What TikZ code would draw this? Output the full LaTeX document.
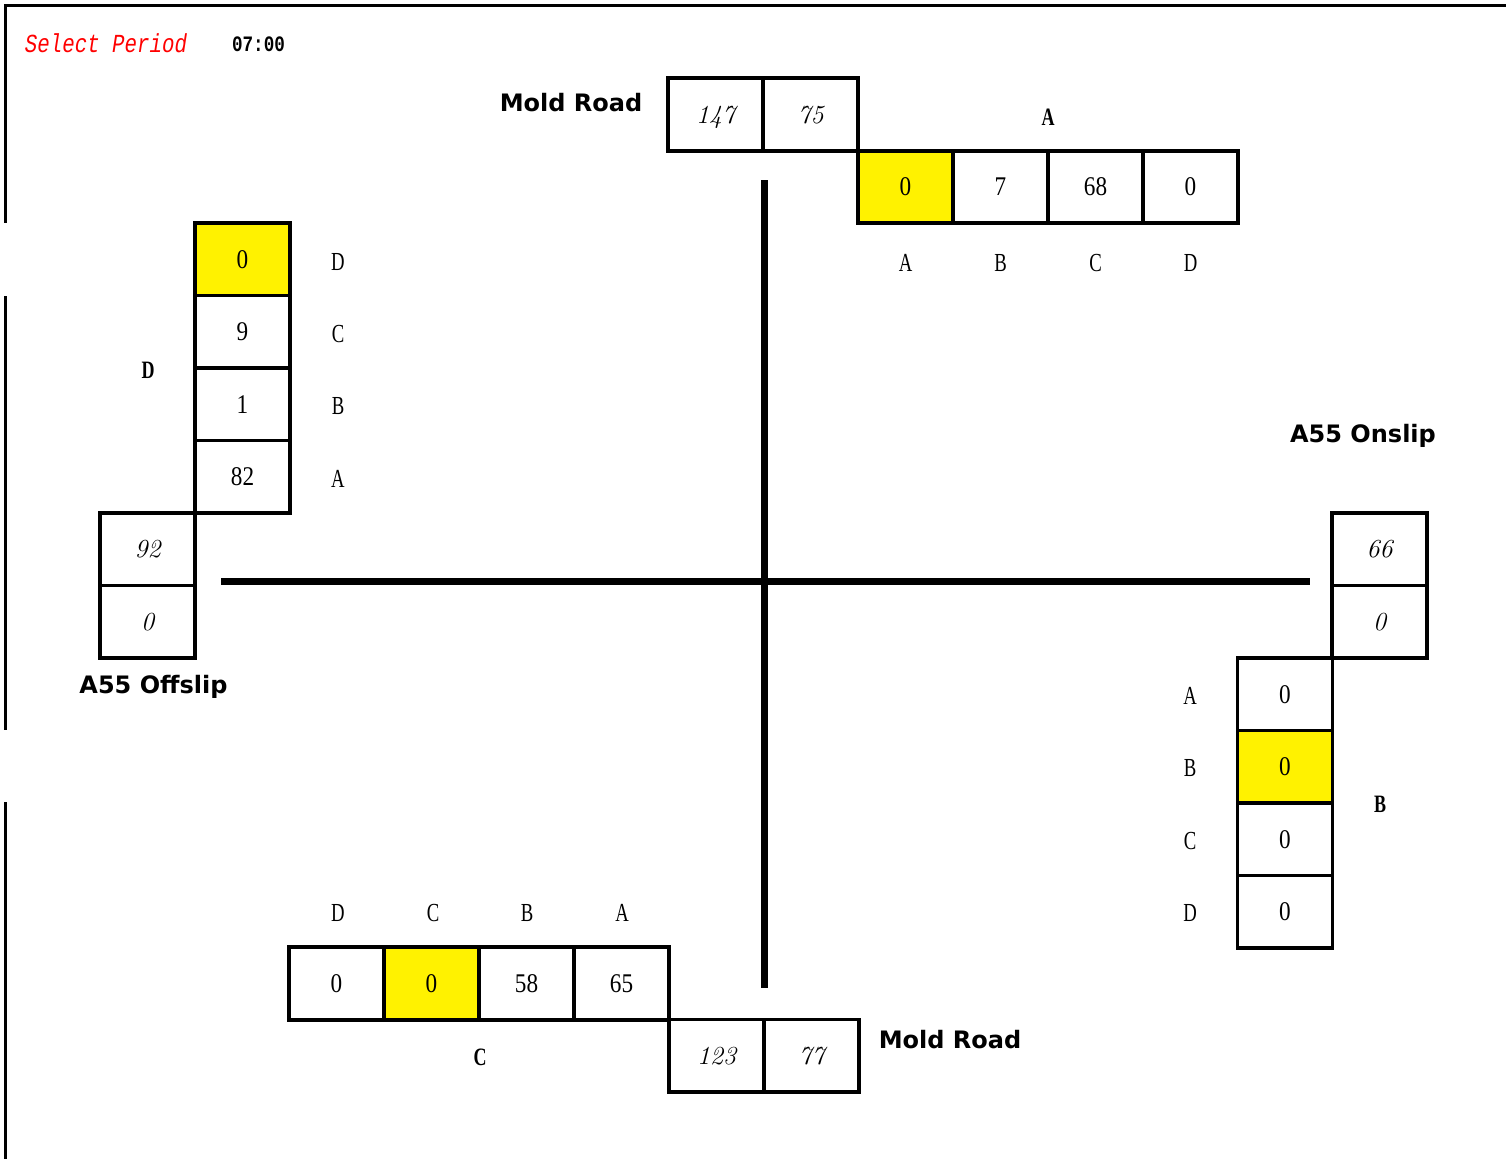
\documentclass[tikz,border=0pt]{standalone}
\usepackage{fontspec}
\newfontfamily\cellfont[FakeStretch=0.86]{Liberation Serif}
\newfontfamily\lanefont[FakeStretch=0.72]{Liberation Serif}
\newfontfamily\ttcond[FakeStretch=0.8]{Liberation Mono}
\newfontfamily\sanslab{DejaVu Sans}
\begin{document}
\begin{tikzpicture}[x=1pt,y=-1pt,
  cell/.style={draw, line width=3.7pt, minimum width=95pt, minimum height=72.5pt, inner sep=0pt,
    text depth=-2pt, font=\cellfont\fontsize{27}{27}\selectfont},
  hl/.style={fill=yellow},
  flow/.style={font=\normalfont\itshape\fontsize{26}{26}\selectfont},
  lane/.style={inner sep=0pt, font=\lanefont\fontsize{26}{26}\selectfont},
  arm/.style={inner sep=0pt, font=\lanefont\bfseries\fontsize{25}{25}\selectfont},
  road/.style={inner sep=0pt, text depth=0pt, font=\sanslab\bfseries\fontsize{24}{24}\selectfont},
  roadline/.style={line width=7pt},
  frame/.style={line width=3.7pt}]
\useasboundingbox (0,0) rectangle (1506,1159);
% frame
\draw[frame] (4,5.5) -- (1506,5.5);
\draw[frame] (5.5,4) -- (5.5,223);
\draw[frame] (5.5,296) -- (5.5,730);
\draw[frame] (5.5,802) -- (5.5,1159);
% header
\node[inner sep=0pt, text=red, font=\ttcond\itshape\fontsize{26}{26}\selectfont] (sel) at (106,43) {Select Period};
\node[inner sep=0pt, font=\ttcond\bfseries\fontsize{22}{22}\selectfont] (time) at (258.5,44) {07:00};
% roads
\coordinate (rN) at (764,180);
\coordinate (rS) at (764,988);
\coordinate (rW) at (221,581);
\coordinate (rE) at (1310,581);
\draw[roadline] (rN) -- (rS);
\draw[roadline] (rW) -- (rE);
% top arm A
\node[cell, flow] (a1) at (715.5,114.5) {147};
\node[cell, flow] (a2) at (810.5,114.5) {75};
\node[cell, hl] (aA) at (905.5,187) {0};
\node[cell] (aB) at (1000.5,187) {7};
\node[cell] (aC) at (1095.5,187) {68};
\node[cell] (aD) at (1190.5,187) {0};
\node[lane] at (905.5,263) {A};
\node[lane] at (1000.5,263) {B};
\node[lane] at (1095.5,263) {C};
\node[lane] at (1190.5,263) {D};
\node[arm] (armA) at (1048,117) {A};
\node[road] (mrN) at (571,102) {Mold Road};
% left arm D
\node[cell, hl] (dD) at (242.5,259.25) {0};
\node[cell] (dC) at (242.5,331.75) {9};
\node[cell] (dB) at (242.5,404.25) {1};
\node[cell] (dA) at (242.5,476.75) {82};
\node[lane] at (338,262) {D};
\node[lane] at (338,334) {C};
\node[lane] at (338,406) {B};
\node[lane] at (338,479) {A};
\node[cell, flow] (d1) at (147.5,549.25) {92};
\node[cell, flow] (d2) at (147.5,621.75) {0};
\node[arm] (armD) at (148,370) {D};
\node[road] (off) at (153.5,684) {A55 Offslip};
% right arm B
\node[cell, flow] (b1) at (1379.5,549.25) {66};
\node[cell, flow] (b2) at (1379.5,621.75) {0};
\node[cell] (bA) at (1285,694.25) {0};
\node[cell, hl] (bB) at (1285,766.75) {0};
\node[cell] (bC) at (1285,839.25) {0};
\node[cell] (bD) at (1285,911.75) {0};
\node[lane] at (1190,696) {A};
\node[lane] at (1190,768) {B};
\node[lane] at (1190,841) {C};
\node[lane] at (1190,913) {D};
\node[arm] (armB) at (1380,804) {B};
\node[road] (on) at (1363,433) {A55 Onslip};
% bottom arm C
\node[cell] (cD) at (336.5,983.5) {0};
\node[cell, hl] (cC) at (431.5,983.5) {0};
\node[cell] (cB) at (526.5,983.5) {58};
\node[cell] (cA) at (621.5,983.5) {65};
\node[lane] at (338,913) {D};
\node[lane] at (433,913) {C};
\node[lane] at (527,913) {B};
\node[lane] at (622,913) {A};
\node[cell, flow] (c1) at (716.5,1055.75) {123};
\node[cell, flow] (c2) at (811.5,1055.75) {77};
\node[arm] (armC) at (480,1057) {C};
\node[road] (mrS) at (950,1039) {Mold Road};
\end{tikzpicture}
\end{document}
